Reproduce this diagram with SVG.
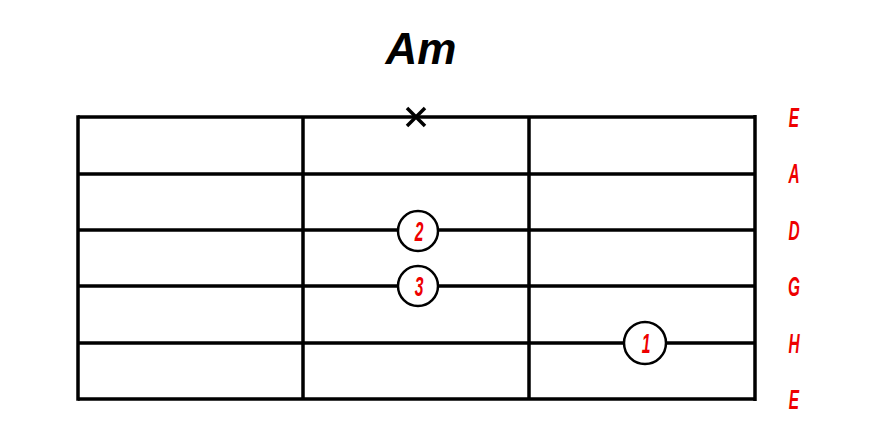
<svg xmlns="http://www.w3.org/2000/svg" width="880" height="446" viewBox="0 0 880 446">
<style>
.ln{stroke:#000;stroke-width:3.5;fill:none}
.dot{fill:#fff;stroke:#000;stroke-width:2.5}
.rt{font-family:"Liberation Sans",Arial,sans-serif;font-style:italic;font-weight:bold;fill:#ee0000;text-anchor:middle}
.lab{font-size:28px}
.num{font-size:27px}
</style>
<rect width="880" height="446" fill="#fff"/>
<text id="title" x="421" y="64" font-family="Liberation Sans, Arial, sans-serif" font-weight="bold" font-style="italic" font-size="44" text-anchor="middle" fill="#000">Am</text>
<g id="grid">
<line class="ln" x1="78" y1="117" x2="755" y2="117"/>
<line class="ln" x1="78" y1="174" x2="755" y2="174"/>
<line class="ln" x1="78" y1="230" x2="755" y2="230"/>
<line class="ln" x1="78" y1="286" x2="755" y2="286" stroke-width="4"/>
<line class="ln" x1="78" y1="343" x2="755" y2="343"/>
<line class="ln" x1="78" y1="399" x2="755" y2="399"/>
<line class="ln" x1="78" y1="115.3" x2="78" y2="400.7"/>
<line class="ln" x1="303" y1="117" x2="303" y2="399"/>
<line class="ln" x1="529" y1="117" x2="529" y2="399"/>
<line class="ln" x1="755" y1="115" x2="755" y2="401" stroke-width="4"/>
</g>
<g id="mute">
<path class="ln" d="M407 108 L425 126 M425 108 L407 126" stroke-width="2.8"/>
</g>
<g id="f2"><circle class="dot" cx="418" cy="231" r="20"/><text class="rt num" transform="translate(419,241) scale(0.58,1)">2</text></g>
<g id="f3"><circle class="dot" cx="418" cy="286" r="20"/><text class="rt num" transform="translate(419,296) scale(0.58,1)">3</text></g>
<g id="f1"><circle class="dot" cx="645" cy="343" r="21"/><text class="rt num" transform="translate(646,353) scale(0.58,1)">1</text></g>
<g id="labels">
<text class="rt lab" transform="translate(794,127) scale(0.55,1)">E</text>
<text class="rt lab" transform="translate(794,183) scale(0.55,1)">A</text>
<text class="rt lab" transform="translate(794,240) scale(0.55,1)">D</text>
<text class="rt lab" transform="translate(794,296) scale(0.55,1)">G</text>
<text class="rt lab" transform="translate(794,353) scale(0.55,1)">H</text>
<text class="rt lab" transform="translate(794,409) scale(0.55,1)">E</text>
</g>
</svg>
